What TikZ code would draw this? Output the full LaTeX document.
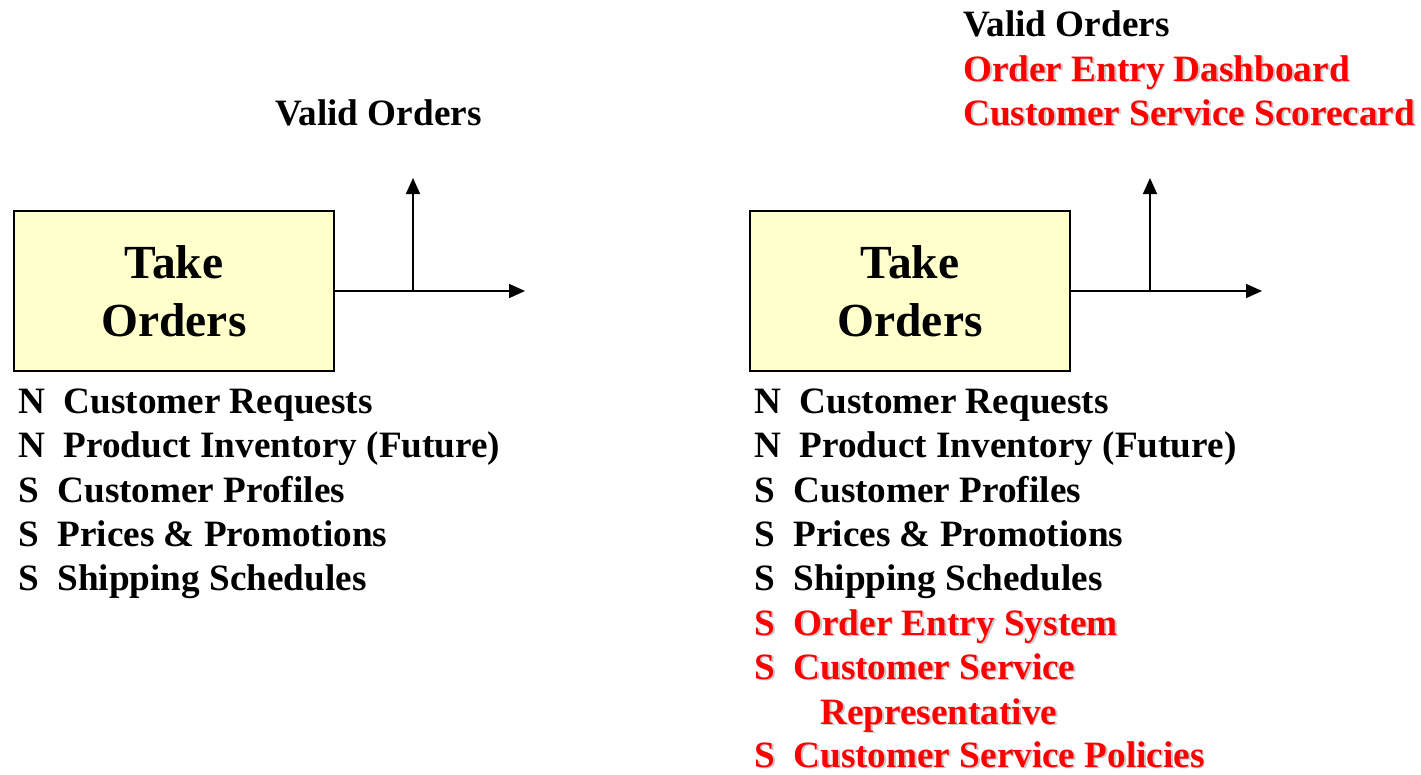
\documentclass[tikz,border=0pt]{standalone}
\usepackage{fontspec}
\setmainfont{Liberation Serif}
\usetikzlibrary{arrows.meta}
\definecolor{boxfill}{RGB}{255,255,204}
\definecolor{redtxt}{RGB}{255,0,0}
\definecolor{shadowgray}{RGB}{200,200,200}
\newcommand{\shtext}[1]{\makebox[0pt][l]{\kern1.8pt\raisebox{-1.8pt}{\color{shadowgray}#1}}#1}
\tikzset{
  procbox/.style={draw=black, line width=1.8pt, fill=boxfill, minimum width=320pt, minimum height=160pt, inner sep=0pt, align=center, font=\fontsize{47.5}{58}\selectfont\bfseries},
  lbl/.style={anchor=base west, inner sep=0pt, font=\fontsize{37.2}{44}\selectfont\bfseries},
  redlbl/.style={lbl, text=redtxt},
  flow/.style={line width=1.7pt, -{Triangle[length=16pt,width=14pt]}},
}
\begin{document}
\begin{tikzpicture}[x=1pt,y=-1pt]
\useasboundingbox (0,0) rectangle (1421,774);
% left diagram
\node[procbox] (box1) at (174,291) {Take\\Orders};
\coordinate (e1) at (525,291);
\coordinate (j1) at (413,291);
\coordinate (u1) at (413,178);
\draw[flow] (box1.east) -- (e1);
\draw[flow] (j1) -- (u1);
\node[lbl] (vo1) at (275,125) {Valid Orders};
\node[lbl] (l1a) at (18,413) {N~~Customer Requests};
\node[lbl] (l1b) at (18,457) {N~~Product Inventory (Future)};
\node[lbl] (l1c) at (18,502) {S~~Customer Profiles};
\node[lbl] (l1d) at (18,546) {S~~Prices \& Promotions};
\node[lbl] (l1e) at (18,590) {S~~Shipping Schedules};
% right diagram
\node[procbox] (box2) at (910,291) {Take\\Orders};
\coordinate (e2) at (1262,291);
\coordinate (j2) at (1150,291);
\coordinate (u2) at (1150,178);
\draw[flow] (box2.east) -- (e2);
\draw[flow] (j2) -- (u2);
\node[lbl] (vo2) at (963,36) {Valid Orders};
\node[redlbl] (od2) at (963,81) {\shtext{Order Entry Dashboard}};
\node[redlbl] (cs2) at (963,125) {\shtext{Customer Service Scorecard}};
\node[lbl] (l2a) at (754,413) {N~~Customer Requests};
\node[lbl] (l2b) at (754,457) {N~~Product Inventory (Future)};
\node[lbl] (l2c) at (754,502) {S~~Customer Profiles};
\node[lbl] (l2d) at (754,546) {S~~Prices \& Promotions};
\node[lbl] (l2e) at (754,590) {S~~Shipping Schedules};
\node[redlbl] (l2f) at (754,635) {\shtext{S~~Order Entry System}};
\node[redlbl] (l2g) at (754,679) {\shtext{S~~Customer Service}};
\node[redlbl] (l2h) at (820,724) {\shtext{Representative}};
\node[redlbl] (l2i) at (754,767) {\shtext{S~~Customer Service Policies}};
\end{tikzpicture}
\end{document}
